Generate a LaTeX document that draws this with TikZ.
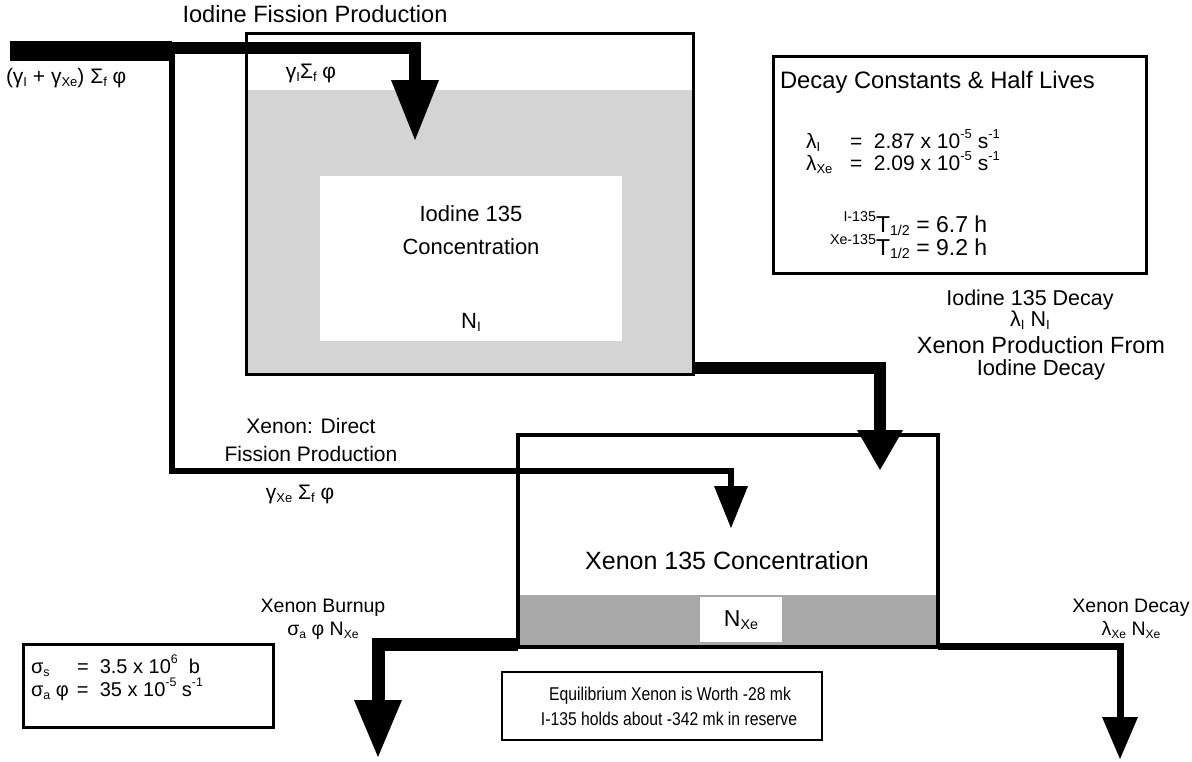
\documentclass[tikz,border=0pt]{standalone}
\usepackage{fontspec}
\setmainfont{Liberation Sans}
\usetikzlibrary{arrows.meta}
\definecolor{igray}{RGB}{212,212,212}
\definecolor{xgray}{RGB}{168,168,168}
\newcommand\fsz[1]{\fontsize{#1}{#1}\selectfont}
\newcommand\lo[1]{\raisebox{-0.3ex}{\scalebox{0.62}{#1}}}
\newcommand\hi[1]{\raisebox{0.9ex}{\scalebox{0.62}{#1}}}
\newcommand\narrow[1]{\scalebox{0.85}[1]{#1}}
\begin{document}
\begin{tikzpicture}[x=1pt,y=-1pt,line join=miter,
  lbl/.style={inner sep=0pt,outer sep=0pt,anchor=base},
  lblw/.style={inner sep=0pt,outer sep=0pt,anchor=base west},
  box/.style={draw,line width=3pt,inner sep=0pt,outer sep=0pt,anchor=north west},
  whitebox/.style={fill=white,inner sep=0pt,outer sep=0pt},
  flow/.style={line width=#1,line cap=butt,line join=miter}]
\fill[white] (0,0) rectangle (1192,761);
\useasboundingbox (0,0) rectangle (1192,761);
% fills
\fill[igray] (246.5,90) rectangle (693.5,374);
\node[whitebox,minimum width=302pt,minimum height=165pt,anchor=north west] (iconc) at (320,176) {};
\fill[xgray] (518,595) rectangle (938,647);
\node[whitebox,minimum width=82pt,minimum height=45pt,anchor=north west] (nxebox) at (700,597) {};
% boxes
\node[box,minimum width=447pt,minimum height=341pt] (ibox) at (246.5,33) {};
\node[box,line width=4.5pt,minimum width=420pt,minimum height=212pt] (xbox) at (518,435) {};
\node[box,minimum width=373pt,minimum height=217pt] (dbox) at (773,56) {};
\node[box,minimum width=250pt,minimum height=83pt] (sbox) at (23,644) {};
\node[box,line width=2.5pt,minimum width=320pt,minimum height=68pt] (ebox) at (502,672) {};
% connectors
\coordinate (src) at (10,51);
\coordinate (split) at (172,51);
\coordinate (ibr) at (172,48);
\coordinate (itip) at (415,140);
\coordinate (dcorner) at (172,471);
\coordinate (xdtip) at (731,528);
\coordinate (idtip) at (880,470);
\coordinate (btip) at (378,757);
\coordinate (dtip) at (1120,759);
\draw[flow=20pt] (src) -- (split);
\draw[flow=12pt,-{Triangle[length=60pt,width=48pt,line width=0pt]}] (ibr) -| (itip);
\draw[flow=6pt,-{Triangle[length=42pt,width=34pt,line width=0pt]}] (split) -- (dcorner) -| (xdtip);
\draw[flow=12pt,-{Triangle[length=40pt,width=46pt,line width=0pt]}] (ibox.south east) ++(0,-6) -| (idtip);
\draw[flow=13pt,-{Triangle[length=57pt,width=48pt,line width=0pt]}] (xbox.south west) ++(0,-3) -| (btip);
\draw[flow=7pt,-{Triangle[length=42pt,width=36pt,line width=0pt]}] (xbox.south east) ++(0,-1) -| (dtip);
% texts
\node[lbl,font=\fsz{23.6}] (t1) at (315,22) {Iodine Fission Production};
\node[lblw,font=\fsz{21}] (t2) at (6,83) {(γ\lo{I} + γ\lo{Xe}) Σ\lo{f} φ};
\node[lbl,font=\fsz{21}] (t3) at (311,78) {γ\lo{I}Σ\lo{f} φ};
\node[lbl,font=\fsz{22}] (t4) at (471,221) {Iodine 135};
\node[lbl,font=\fsz{22}] (t5) at (471,254) {Concentration};
\node[lbl,font=\fsz{22}] (t6) at (471,328) {N\lo{I}};
\node[lblw,font=\fsz{23.8}] (d1) at (780,88) {Decay Constants \& Half Lives};
\node[lblw,font=\fsz{21}] (d2) at (806,148) {\makebox[44pt][l]{λ\lo{I}}= \ 2.87 x 10\hi{-5} s\hi{-1}};
\node[lblw,font=\fsz{21}] (d3) at (806,170) {\makebox[44pt][l]{λ\lo{Xe}}= \ 2.09 x 10\hi{-5} s\hi{-1}};
\node[lblw,font=\fsz{23}] (d4) at (876,232) {\llap{\hi{I-135}}T\lo{1/2} = 6.7 h};
\node[lblw,font=\fsz{23}] (d5) at (876,255) {\llap{\hi{Xe-135}}T\lo{1/2} = 9.2 h};
\node[lbl,font=\fsz{21.5}] (i1) at (1030,305) {Iodine 135 Decay};
\node[lbl,font=\fsz{21.5}] (i2) at (1030,326) {λ\lo{I} N\lo{I}};
\node[lbl,font=\fsz{23.5}] (i3) at (1041,353) {Xenon Production From};
\node[lbl,font=\fsz{22}] (i4) at (1041,375) {Iodine Decay};
\node[lbl,font=\fsz{21}] (x1) at (311,433) {Xenon: Direct};
\node[lbl,font=\fsz{21}] (x2) at (311,461) {Fission Production};
\node[lbl,font=\fsz{21}] (x3) at (300,499) {γ\lo{Xe} Σ\lo{f} φ};
\node[lbl,font=\fsz{25}] (x4) at (727,569) {Xenon 135 Concentration};
\node[lbl,font=\fsz{23}] (x5) at (741,626) {N\lo{Xe}};
\node[lbl,font=\fsz{19.5}] (b1) at (323,612) {Xenon Burnup};
\node[lbl,font=\fsz{19.5}] (b2) at (323,635) {σ\lo{a} φ N\lo{Xe}};
\node[lbl,font=\fsz{19.5}] (b3) at (1131,612) {Xenon Decay};
\node[lbl,font=\fsz{19.5}] (b4) at (1131,635) {λ\lo{Xe} N\lo{Xe}};
\node[lblw,font=\fsz{20}] (s1) at (31,673) {\makebox[46pt][l]{σ\lo{s}}= \ 3.5 x 10\hi{6} \ b};
\node[lblw,font=\fsz{20}] (s2) at (31,696) {\makebox[46pt][l]{σ\lo{a} φ}= \ 35 x 10\hi{-5} s\hi{-1}};
\node[lbl,font=\fsz{18.5}] (e1) at (670,700) {\narrow{Equilibrium Xenon is Worth -28 mk}};
\node[lbl,font=\fsz{18.5}] (e2) at (669,725) {\narrow{I-135 holds about -342 mk in reserve}};
\end{tikzpicture}
\end{document}
